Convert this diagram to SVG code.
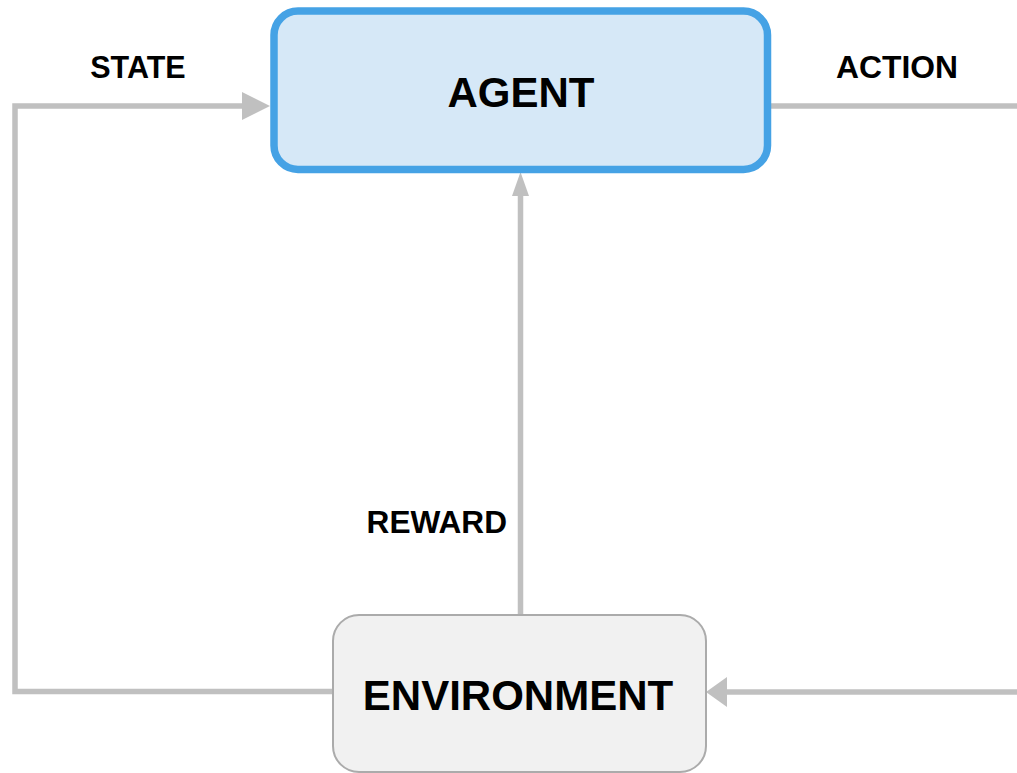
<svg xmlns="http://www.w3.org/2000/svg" width="1017" height="773" viewBox="0 0 1017 773">
  <style>
    .conn { fill: none; stroke: #C0C0C0; stroke-width: 5.5; stroke-linejoin: miter; }
    .head { fill: #C0C0C0; }
    .lbl { font-family: "Liberation Sans", Arial, sans-serif; font-weight: bold; fill: #000; }
    .agent { fill: #D6E8F7; stroke: #45A2E5; stroke-width: 7.5; }
    .env { fill: #F1F1F1; stroke: #ABABAB; stroke-width: 2; }
  </style>
  <rect width="1017" height="773" fill="#FFFFFF"/>
  <g id="connectors">
    <polyline class="conn" points="333,691.5 15,691.5 15,106 245,106"/>
    <polygon class="head" points="270,106 242,92 242,120"/>
    <line class="conn" x1="771" y1="106" x2="1017" y2="106"/>
    <line class="conn" x1="1017" y1="692" x2="722" y2="692"/>
    <polygon class="head" points="706,692 727,677 727,707"/>
    <line class="conn" x1="520.5" y1="615" x2="520.5" y2="190"/>
    <polygon class="head" points="520.5,172 512,196 529,196"/>
    <text class="lbl" x="138" y="78" font-size="30.5" text-anchor="middle">STATE</text>
    <text class="lbl" x="897" y="78" font-size="31.8" text-anchor="middle">ACTION</text>
    <text class="lbl" x="507" y="533" font-size="31.6" text-anchor="end">REWARD</text>
  </g>
  <g id="agent">
    <rect class="agent" x="274" y="11" width="493.5" height="158.5" rx="24" ry="24"/>
    <text class="lbl" x="521" y="107" font-size="42" text-anchor="middle">AGENT</text>
  </g>
  <g id="environment">
    <rect class="env" x="333" y="615" width="373" height="157" rx="26" ry="26"/>
    <text class="lbl" x="518" y="710" font-size="42" text-anchor="middle">ENVIRONMENT</text>
  </g>
</svg>
